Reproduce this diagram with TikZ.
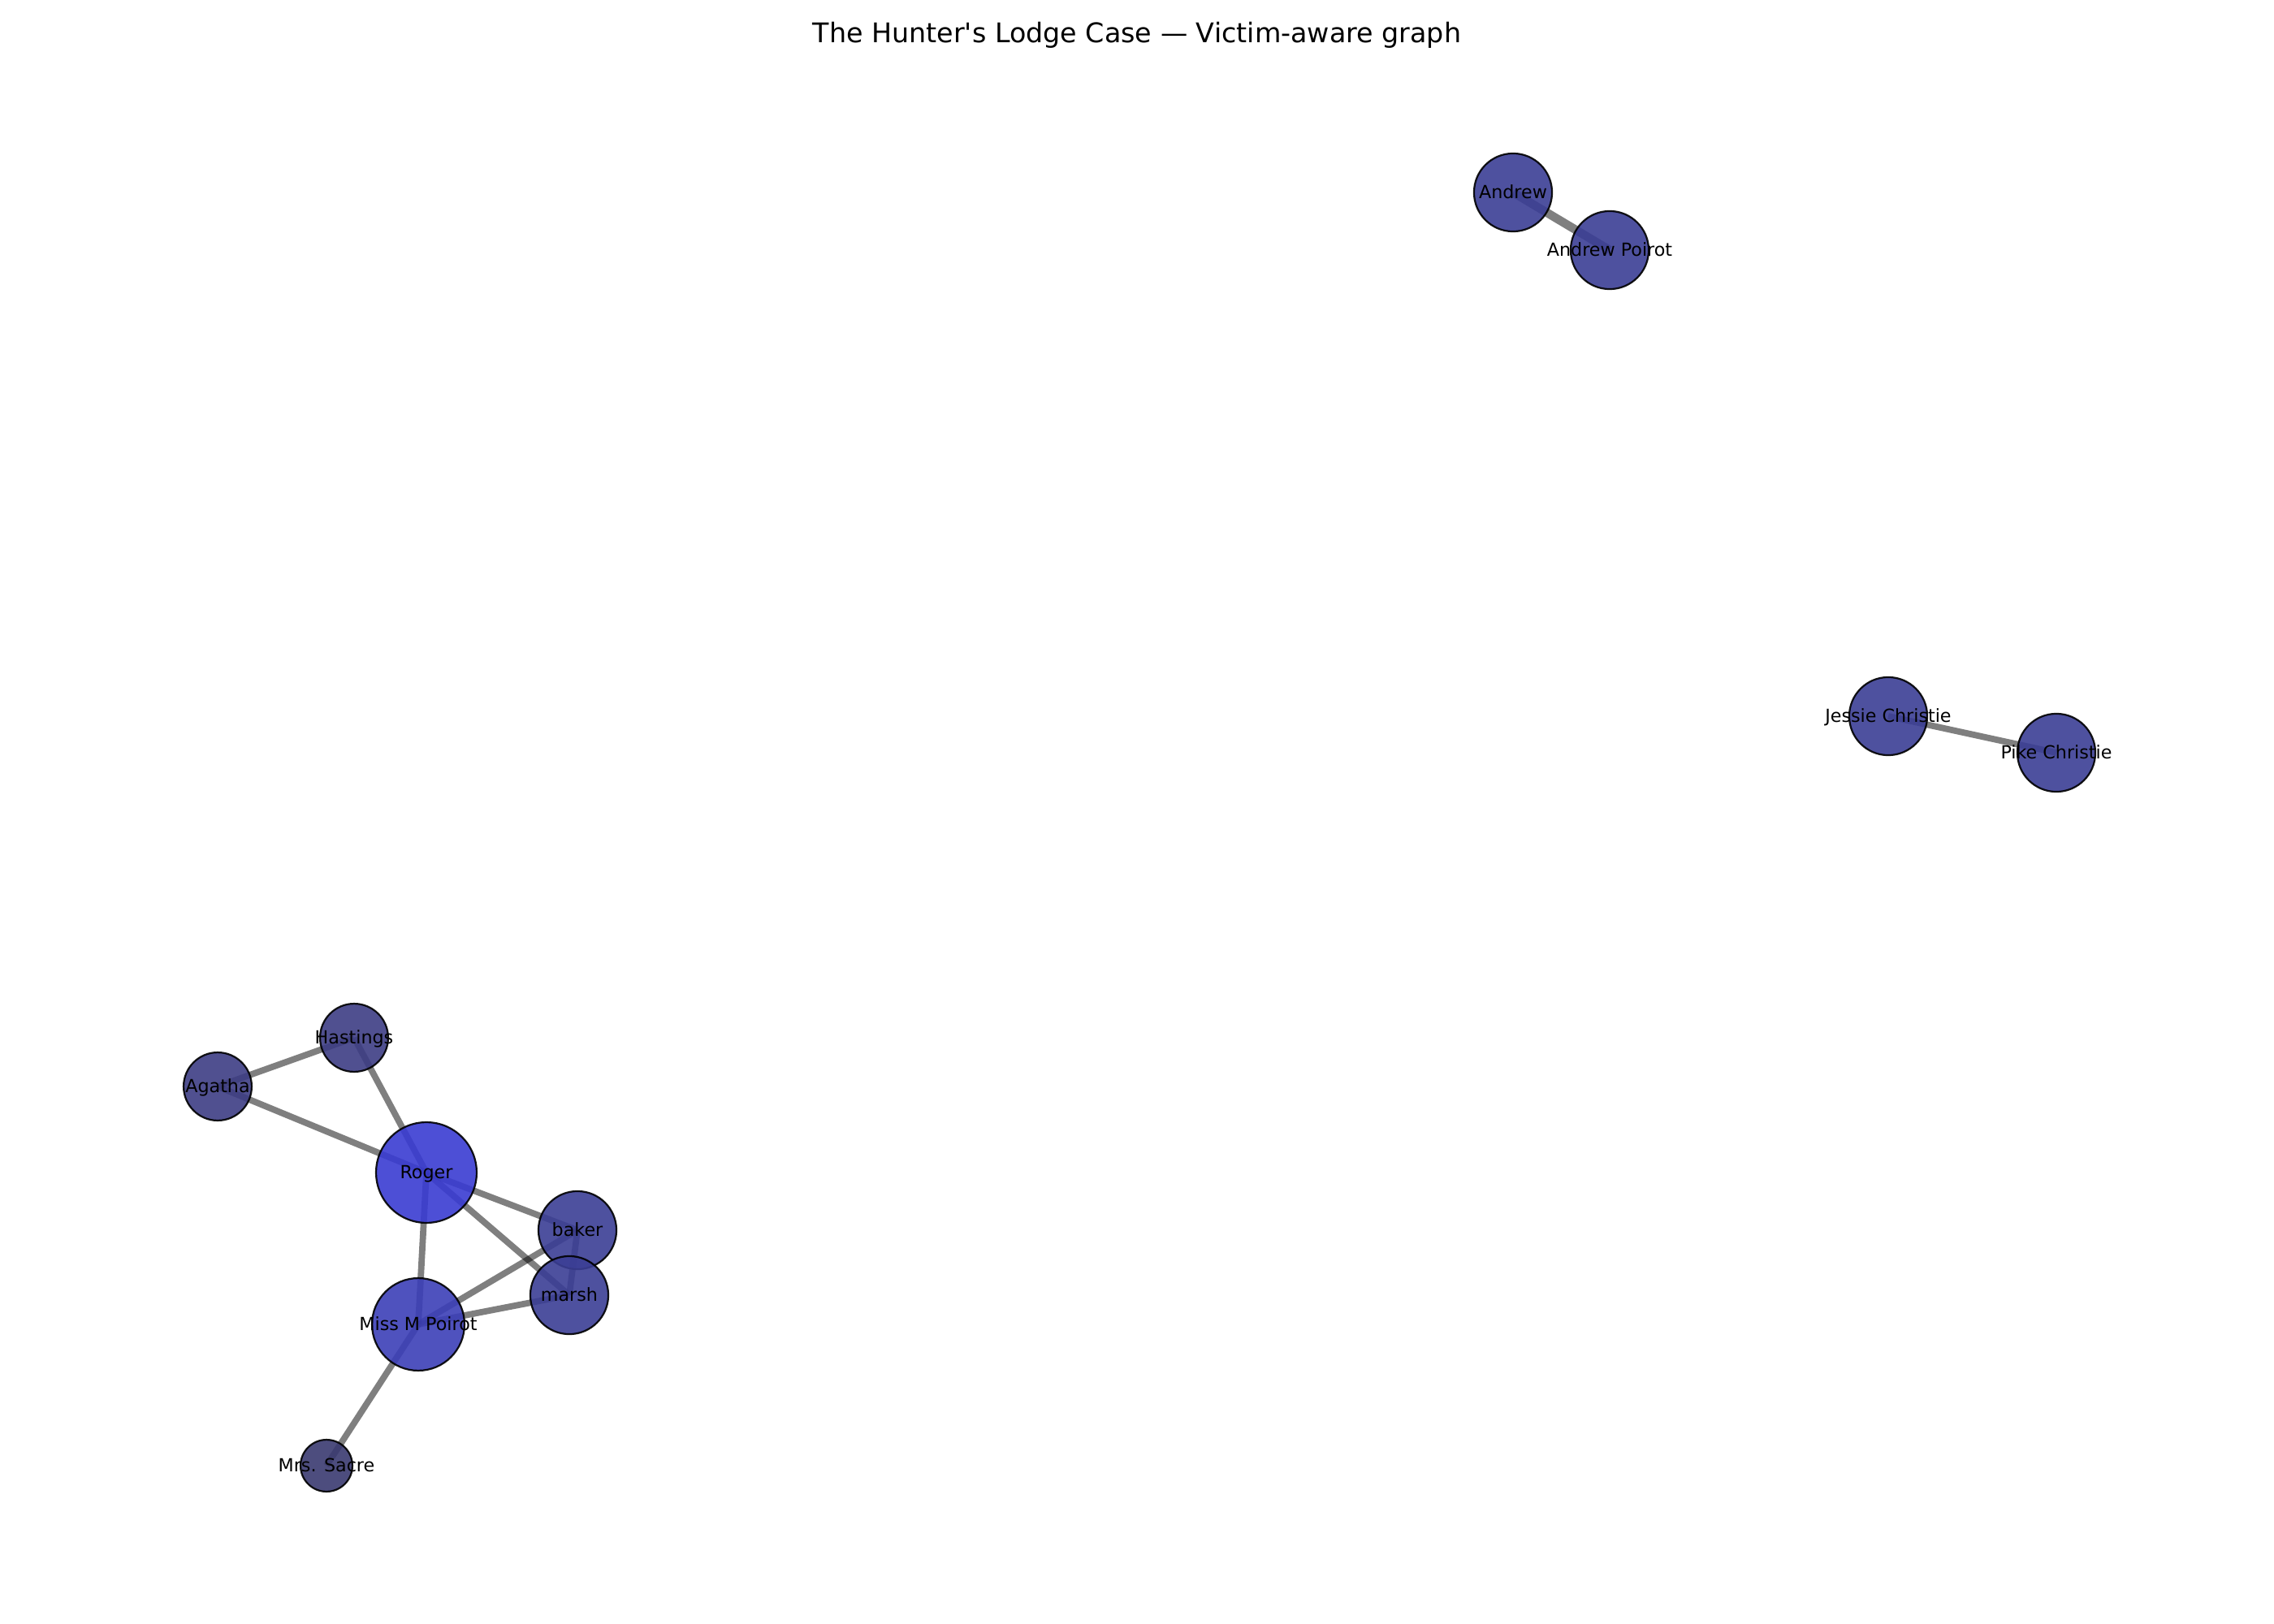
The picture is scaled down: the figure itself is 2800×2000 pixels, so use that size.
\documentclass[tikz,border=0pt]{standalone}
\usepackage{fontspec}
\setmainfont{DejaVu Sans}[Ligatures=TeXOff]
\definecolor{cRoger}{RGB}{58,60,210}
\definecolor{cMiss}{RGB}{60,63,183}
\definecolor{cStd}{RGB}{59,62,149}
\definecolor{cLow}{RGB}{61,61,132}
\definecolor{cMin}{RGB}{58,58,112}
\tikzset{
  vnode/.style={circle, draw=black, line width=0.8pt, fill opacity=0.9, draw opacity=0.9, inner sep=0pt, minimum size=#1},
  lbl/.style={font=\fontsize{8}{9.6}\selectfont, text=black, inner sep=0pt, text height=0.76em, text depth=0.236em},
  edge/.style={draw=black, draw opacity=0.5, line width=2.8pt},
  thickedge/.style={draw=black, draw opacity=0.5, line width=3.8pt}
}
\begin{document}
\begin{tikzpicture}[x=0.36pt, y=-0.36pt]
\useasboundingbox (0,0) rectangle (2800,2000);
% coordinates
\coordinate (pAndrew) at (1863,237);
\coordinate (pAP) at (1982,308);
\coordinate (pJessie) at (2325,882);
\coordinate (pPike) at (2532,927);
\coordinate (pHastings) at (436,1278);
\coordinate (pAgatha) at (268,1338);
\coordinate (pRoger) at (525,1444);
\coordinate (pBaker) at (711,1515);
\coordinate (pMarsh) at (701,1595);
\coordinate (pMiss) at (515,1631);
\coordinate (pSacre) at (402,1805);
% title
\node[font=\fontsize{12}{14.4}\selectfont, inner sep=0pt, text height=0.76em, text depth=0.236em] (title) at (1400,45) {The Hunter's Lodge Case — Victim-aware graph};
% edges
\draw[thickedge] (pAndrew) -- (pAP);
\draw[edge] (pJessie) -- (pPike);
\draw[edge] (pAgatha) -- (pHastings);
\draw[edge] (pAgatha) -- (pRoger);
\draw[edge] (pHastings) -- (pRoger);
\draw[edge] (pRoger) -- (pBaker);
\draw[edge] (pRoger) -- (pMarsh);
\draw[edge] (pRoger) -- (pMiss);
\draw[edge] (pBaker) -- (pMiss);
\draw[edge] (pMarsh) -- (pMiss);
\draw[edge] (pBaker) -- (pMarsh);
\draw[edge] (pMiss) -- (pSacre);
% nodes
\node[vnode=34.6pt, fill=cStd] (andrew) at (pAndrew) {};
\node[vnode=34.6pt, fill=cStd] (ap) at (pAP) {};
\node[vnode=34.6pt, fill=cStd] (jessie) at (pJessie) {};
\node[vnode=34.6pt, fill=cStd] (pike) at (pPike) {};
\node[vnode=30.2pt, fill=cLow] (hastings) at (pHastings) {};
\node[vnode=30.2pt, fill=cLow] (agatha) at (pAgatha) {};
\node[vnode=44.6pt, fill=cRoger] (roger) at (pRoger) {};
\node[vnode=34.6pt, fill=cStd] (baker) at (pBaker) {};
\node[vnode=34.6pt, fill=cStd] (marsh) at (pMarsh) {};
\node[vnode=41pt, fill=cMiss] (miss) at (pMiss) {};
\node[vnode=23pt, fill=cMin] (sacre) at (pSacre) {};
% labels
\node[lbl] (l-andrew) at (andrew) {Andrew};
\node[lbl] (l-ap) at (ap) {Andrew Poirot};
\node[lbl] (l-jessie) at (jessie) {Jessie Christie};
\node[lbl] (l-pike) at (pike) {Pike Christie};
\node[lbl] (l-hastings) at (hastings) {Hastings};
\node[lbl] (l-agatha) at (agatha) {Agatha};
\node[lbl] (l-roger) at (roger) {Roger};
\node[lbl] (l-baker) at (baker) {baker};
\node[lbl] (l-marsh) at (marsh) {marsh};
\node[lbl] (l-miss) at (miss) {Miss M Poirot};
\node[lbl] (l-sacre) at (sacre) {Mrs. Sacre};
\end{tikzpicture}
\end{document}
